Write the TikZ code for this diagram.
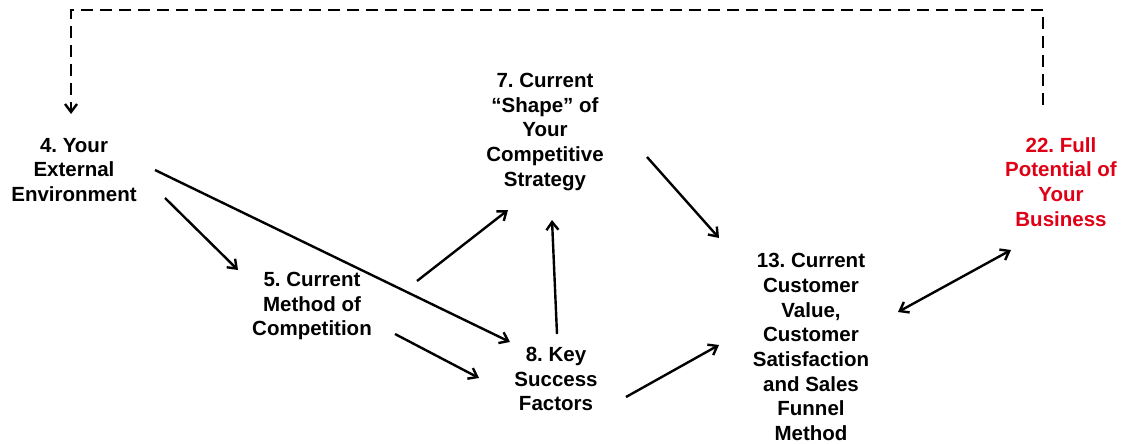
\documentclass[tikz,border=0pt]{standalone}
\usepackage{fontspec}
\setmainfont{Liberation Sans}
\frenchspacing
\usetikzlibrary{arrows.meta}
\definecolor{goalred}{RGB}{224,0,22}
\begin{document}
\begin{tikzpicture}[x=1pt,y=-1pt,
  lbl/.style={align=center,inner sep=0pt,font=\fontsize{20.5}{24.7}\selectfont\bfseries},
  tip/.style={-{Straight Barb[length=8pt,width=12pt,line width=2.4pt]}},
  flow/.style={line width=2.4pt,tip},
  twoway/.style={line width=2.4pt,{Straight Barb[length=8pt,width=12pt,line width=2.4pt]}-{Straight Barb[length=8pt,width=12pt,line width=2.4pt]}},
  loop/.style={line width=2.2pt,dash pattern=on 12pt off 7pt,tip}]
\useasboundingbox (0,0) rectangle (1122,444);

% text blocks
\node[lbl] (n4)  at (74,170)  {4. Your\\External\\Environment};
\node[lbl] (n7)  at (545,132) {7. Current\\``Shape'' of\\Your\\Competitive\\Strategy};
\node[lbl] (n5)  at (312,306) {5. Current\\Method of\\Competition};
\node[lbl] (n8)  at (556,379) {8. Key\\Success\\Factors};
\node[lbl] (n13) at (811,347) {13. Current\\Customer\\Value,\\Customer\\Satisfaction\\and Sales\\Funnel\\Method};
\node[lbl,text=goalred] (n22) at (1061,182) {22. Full\\Potential of\\Your\\Business};

% connector end points
\coordinate (s45) at (165,198);  \coordinate (t45) at (238,270);
\coordinate (s48) at (155,170);  \coordinate (t48) at (510,342);
\coordinate (s57) at (417,281);  \coordinate (t57) at (508,210);
\coordinate (s87) at (557,334);  \coordinate (t87) at (552,220);
\coordinate (s58) at (395,334);  \coordinate (t58) at (479,378);
\coordinate (s713) at (647,157); \coordinate (t713) at (719,238);
\coordinate (s813) at (626,397); \coordinate (t813) at (719,345);
\coordinate (a1322) at (898,312); \coordinate (b1322) at (1011,250);
\coordinate (s224) at (1043,105); \coordinate (t224) at (71,114);

% connectors
\draw[flow] (s45) -- (t45);
\draw[flow] (s48) -- (t48);
\draw[flow] (s57) -- (t57);
\draw[flow] (s87) -- (t87);
\draw[flow] (s58) -- (t58);
\draw[flow] (s713) -- (t713);
\draw[flow] (s813) -- (t813);
\draw[twoway] (a1322) -- (b1322);
\draw[loop] (s224) -- (1043,10) -- (71,10) -- (t224);
\end{tikzpicture}
\end{document}
